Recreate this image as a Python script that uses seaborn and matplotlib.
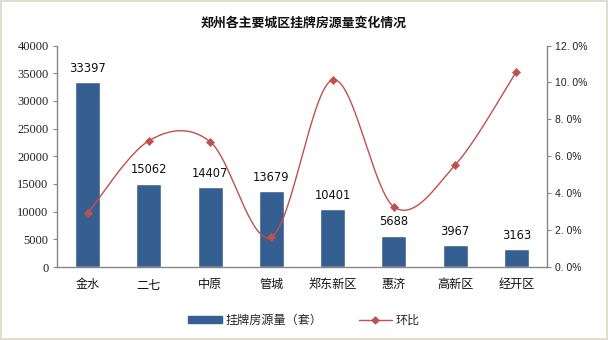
import numpy as np
import pandas as pd
import matplotlib
matplotlib.use("Agg")
import matplotlib.pyplot as plt
import seaborn as sns
from matplotlib.patches import Rectangle
from matplotlib.lines import Line2D
from matplotlib.patches import Patch

districts = ["金水", "二七", "中原", "管城", "郑东新区", "惠济", "高新区", "经开区"]
listings = [33397, 15062, 14407, 13679, 10401, 5688, 3967, 3163]
mom = [2.9, 6.84, 6.79, 1.63, 10.14, 3.26, 5.52, 10.59]  # percent
left_ticks = [0, 5000, 10000, 15000, 20000, 25000, 30000, 35000, 40000]
right_ticks = [0, 2, 4, 6, 8, 10, 12]

sns.set_theme(style="white")
plt.rcParams['font.family'] = ['Noto Sans CJK SC', 'DejaVu Sans']

bar_color = "#365f91"
line_color = "#c0504d"
grey = "#868686"

df = pd.DataFrame({"district": districts, "listings": listings})

fig = plt.figure(figsize=(6.08, 3.4), dpi=100)
ax = fig.add_axes([57/608, 1-267/340, (547-57)/608, (267-45.5)/340])
sns.barplot(data=df, x="district", y="listings", color=bar_color, width=0.41,
            saturation=1, ax=ax, zorder=2)
ax.set_ylim(0, 40000)
ax.set_xlim(-0.5, len(districts)-0.5)
ax.set_yticks(left_ticks)
ax.set_yticklabels([str(t) for t in left_ticks], family="Liberation Serif", fontsize=9, color="#222222")
ax.set_xlabel("")
ax.set_ylabel("")
ax.tick_params(axis="x", length=0, pad=8, labelsize=8.7, colors="#111111")
ax.tick_params(axis="y", length=3, width=0.8, color=grey, pad=3, direction="out", left=True)
for s in ["top", "right"]:
    ax.spines[s].set_visible(False)
for s in ["left", "bottom"]:
    ax.spines[s].set_color(grey)
    ax.spines[s].set_linewidth(1)

for i, v in enumerate(listings):
    ax.text(i, v + 1300, str(v), ha="center", va="bottom", fontsize=8.3,
            family=["DejaVu Sans"], color="#111111")

ax2 = ax.twinx()
ax2.set_ylim(0, 12)
ax2.set_yticks(right_ticks)
ax2.set_yticklabels([f"{t:.1f}%".replace(".", ". ") for t in right_ticks], fontsize=7.5,
                    family=["Liberation Sans"], color="#222222")
ax2.tick_params(axis="y", length=3, width=0.8, color=grey, pad=3, direction="out", right=True)
for s in ["top", "left", "bottom"]:
    ax2.spines[s].set_visible(False)
ax2.spines["right"].set_color(grey)
ax2.spines["right"].set_linewidth(1)
ax2.grid(False)

# Catmull-Rom smooth curve through the points (Excel-like smoothing)
x = np.arange(len(mom), dtype=float)
y = np.array(mom, dtype=float)
px = np.concatenate([[x[0]], x, [x[-1]]])
py = np.concatenate([[y[0]], y, [y[-1]]])
sx, sy = [], []
t = np.linspace(0, 1, 40)
for i in range(1, len(px)-2):
    p0, p1, p2, p3 = (np.array([px[j], py[j]]) for j in (i-1, i, i+1, i+2))
    c1 = p1 + (p2 - p0) / 6
    c2 = p2 - (p3 - p1) / 6
    b = ((1-t)**3)[:, None]*p1 + (3*(1-t)**2*t)[:, None]*c1 + (3*(1-t)*t**2)[:, None]*c2 + (t**3)[:, None]*p2
    sx.extend(b[:, 0]); sy.extend(b[:, 1])
ax2.plot(sx, sy, color=line_color, lw=1.0, zorder=3)
sns.scatterplot(x=x, y=y, marker="D", s=18, color=line_color, edgecolor=line_color,
                ax=ax2, zorder=4, legend=False)

fig.suptitle("郑州各主要城区挂牌房源量变化情况", y=0.955, fontsize=9.3, fontweight="bold",
             color="#111111")

handles = [Patch(facecolor=bar_color, edgecolor=bar_color),
           Line2D([0], [0], color=line_color, lw=1, marker="D", markersize=3.5)]
fig.legend(handles, ["挂牌房源量（套）", "环比"], loc="center", bbox_to_anchor=(0.5, 1-320/340),
           ncol=2, frameon=False, fontsize=8.7, handlelength=2.8, handleheight=0.5,
           columnspacing=3.0, handletextpad=0.3)

fig.patches.append(Rectangle((0.001, 0.002), 0.997, 0.995, transform=fig.transFigure,
                             fill=False, edgecolor="#d9d9c3", lw=1.2))

fig.savefig("out.png", dpi=100)
